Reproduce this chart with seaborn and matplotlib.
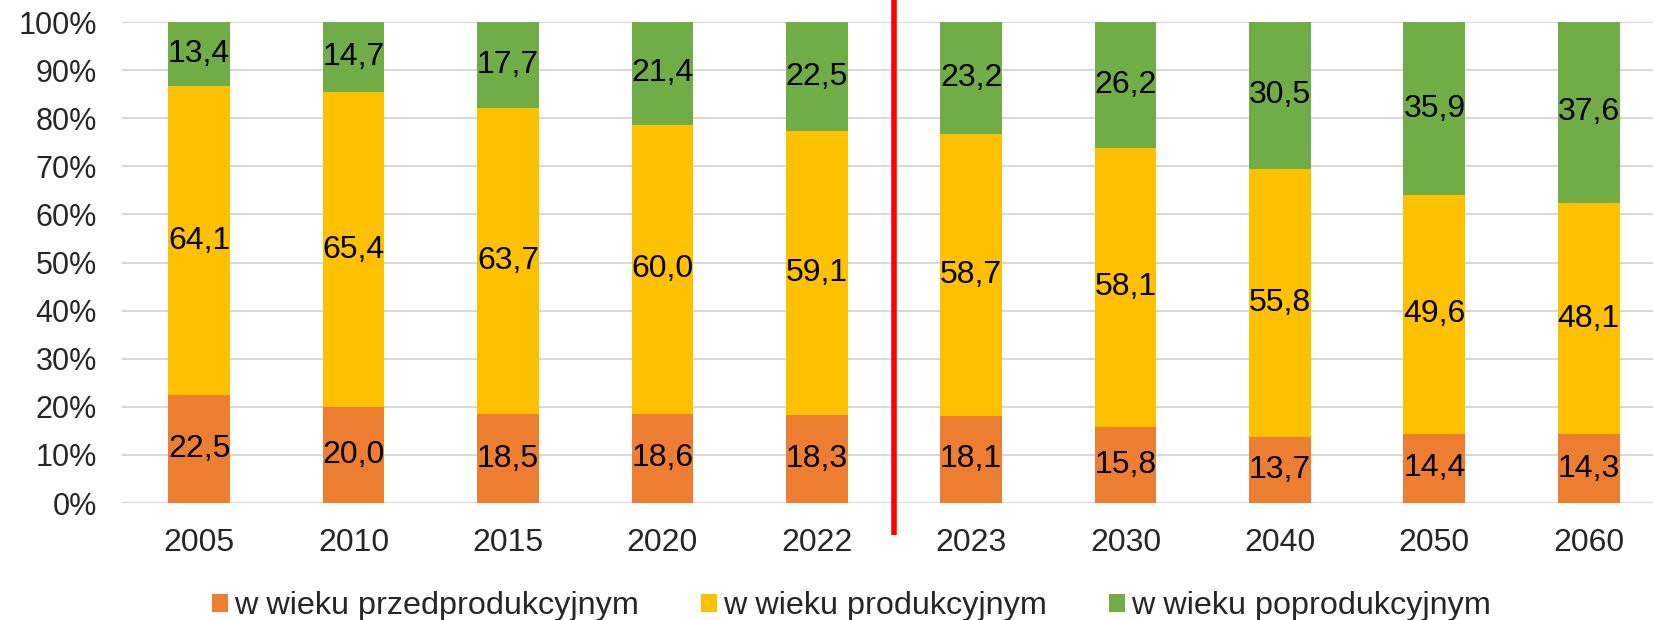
import pandas as pd
import matplotlib
matplotlib.use('Agg')
import matplotlib.pyplot as plt
import seaborn as sns
from matplotlib.patches import Patch

years = ['2005', '2010', '2015', '2020', '2022', '2023', '2030', '2040', '2050', '2060']
pre_working = [22.5, 20.0, 18.5, 18.6, 18.3, 18.1, 15.8, 13.7, 14.4, 14.3]
working = [64.1, 65.4, 63.7, 60.0, 59.1, 58.7, 58.1, 55.8, 49.6, 48.1]
post_working = [13.4, 14.7, 17.7, 21.4, 22.5, 23.2, 26.2, 30.5, 35.9, 37.6]
series_names = ['w wieku przedprodukcyjnym', 'w wieku produkcyjnym', 'w wieku poprodukcyjnym']
colors = ['#ED7D31', '#FFC000', '#70AD47']

sns.set_style('white')
plt.rcParams['font.family'] = ['Liberation Sans', 'DejaVu Sans']

df = pd.DataFrame({'year': years, 'pre': pre_working, 'work': working, 'post': post_working})

fig = plt.figure(figsize=(16.53, 6.2), dpi=100)
ax = fig.add_axes([0.0738, 0.1887, 0.9262, 0.7758])

bottom = [0.0] * len(years)
for col, name, color in zip(['pre', 'work', 'post'], series_names, colors):
    sns.barplot(data=df, x='year', y=col, color=color, width=0.4, bottom=bottom,
                ax=ax, saturation=1, linewidth=0, zorder=2)
    cont = ax.containers[-1]
    ax.bar_label(cont, labels=[f'{v:.1f}'.replace('.', ',') for v in df[col]],
                 label_type='center', fontsize=23, color='black')
    bottom = [b + v for b, v in zip(bottom, df[col])]

ax.set_ylim(0, 100)
ax.set_xlim(-0.5, 9.416)
ax.set_yticks(range(0, 101, 10))
ax.set_yticklabels([f'{t}%' for t in range(0, 101, 10)])
ax.yaxis.grid(True, color='#d9d9d9', linewidth=1.5, zorder=0)
ax.set_axisbelow(True)
for s in ax.spines.values():
    s.set_visible(False)
ax.tick_params(axis='y', length=0, pad=18, labelsize=22)
ax.tick_params(axis='x', length=0, pad=18, labelsize=23)
ax.set_xlabel('')
ax.set_ylabel('')

# forecast divider
ax.plot([4.5, 4.5], [-6.6, 104.7], color='red', linewidth=4, clip_on=False,
        solid_capstyle='butt', zorder=5)

handles = [Patch(facecolor=c, edgecolor='none') for c in colors]
fig.legend(handles, series_names, loc='center', bbox_to_anchor=(0.515, 0.022), ncol=3,
           frameon=False, fontsize=23.3, handlelength=0.5, handleheight=0.5,
           handletextpad=0.2, columnspacing=1.9)

fig.savefig('out.png', dpi=100)
